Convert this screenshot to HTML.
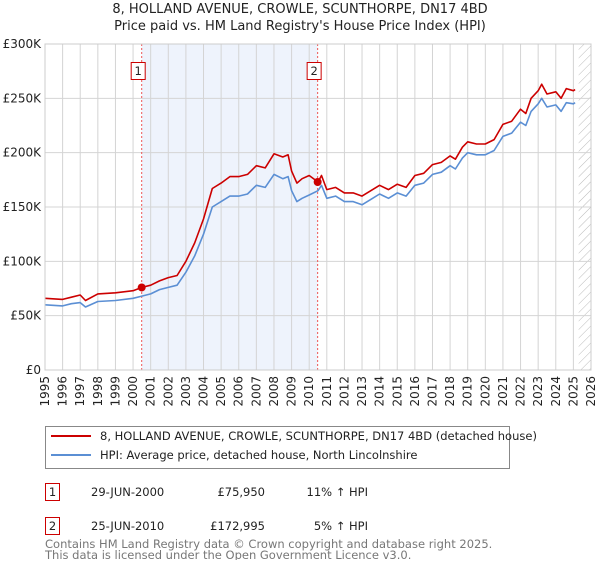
<!DOCTYPE html>
<html><head><meta charset="utf-8">
<style>
body{margin:0;background:#fff;font-family:"Liberation Sans","DejaVu Sans",sans-serif;}
svg text{font-family:"DejaVu Sans","Liberation Sans",sans-serif;}
</style></head>
<body>
<svg id="chart" width="600" height="560" viewBox="0 0 600 560" xmlns="http://www.w3.org/2000/svg">
<defs>
<pattern id="hatch" width="6" height="6" patternUnits="userSpaceOnUse" patternTransform="rotate(45)">
<line x1="0" y1="0" x2="0" y2="6" stroke="#bbb" stroke-width="1"/>
</pattern>
</defs>
<text x="300" y="13" text-anchor="middle" font-size="13" fill="#222">8, HOLLAND AVENUE, CROWLE, SCUNTHORPE, DN17 4BD</text>
<text x="300" y="30" text-anchor="middle" font-size="13" fill="#222">Price paid vs. HM Land Registry's House Price Index (HPI)</text>
<g id="plot"></g>
<g>
<rect x="45.5" y="426.5" width="464" height="42" fill="#fff" stroke="#888"/>
<line x1="51" y1="436" x2="91" y2="436" stroke="#cc0000" stroke-width="2"/>
<text x="100" y="440" font-size="11.5" fill="#222">8, HOLLAND AVENUE, CROWLE, SCUNTHORPE, DN17 4BD (detached house)</text>
<line x1="51" y1="455" x2="91" y2="455" stroke="#5b8fd4" stroke-width="2"/>
<text x="100" y="459" font-size="11.5" fill="#222">HPI: Average price, detached house, North Lincolnshire</text>
</g>
<g>
<rect x="45.5" y="483.5" width="14" height="17" fill="#fff" stroke="#cc0000"/>
<text x="52.5" y="496" text-anchor="middle" font-size="11.5" fill="#222">1</text>
<text x="91" y="496" font-size="11.5" fill="#222">29-JUN-2000</text>
<text x="265" y="496" text-anchor="end" font-size="11.5" fill="#222">£75,950</text>
<text x="368" y="496" text-anchor="end" font-size="11.5" fill="#222">11% ↑ HPI</text>
<rect x="45.5" y="517.5" width="14" height="17" fill="#fff" stroke="#cc0000"/>
<text x="52.5" y="530" text-anchor="middle" font-size="11.5" fill="#222">2</text>
<text x="91" y="530" font-size="11.5" fill="#222">25-JUN-2010</text>
<text x="265" y="530" text-anchor="end" font-size="11.5" fill="#222">£172,995</text>
<text x="368" y="530" text-anchor="end" font-size="11.5" fill="#222">5% ↑ HPI</text>
</g>
<text x="45" y="548" font-size="11.5" fill="#777">Contains HM Land Registry data © Crown copyright and database right 2025.</text>
<text x="45" y="559" font-size="11.5" fill="#777">This data is licensed under the Open Government Licence v3.0.</text>
</svg>
<script>
const yearTicks=[1995,1996,1997,1998,1999,2000,2001,2002,2003,2004,2005,2006,2007,2008,2009,2010,2011,2012,2013,2014,2015,2016,2017,2018,2019,2020,2021,2022,2023,2024,2025,2026];
const valueTicks=[0,50000,100000,150000,200000,250000,300000];
const valueLabels=["£0","£50K","£100K","£150K","£200K","£250K","£300K"];
const hpiYears=[1995,1996,1996.5,1997,1997.3,1998,1999,2000,2000.5,2001,2001.5,2002,2002.5,2003,2003.5,2004,2004.5,2005,2005.5,2006,2006.5,2007,2007.5,2008,2008.5,2008.8,2009,2009.3,2009.6,2010,2010.5,2010.7,2011,2011.5,2012,2012.5,2013,2013.5,2014,2014.5,2015,2015.5,2016,2016.5,2017,2017.5,2018,2018.3,2018.7,2019,2019.5,2020,2020.5,2021,2021.5,2022,2022.3,2022.6,2023,2023.2,2023.5,2024,2024.3,2024.6,2025,2025.1];
const hpiValues=[60000,59000,61000,62000,58000,63000,64000,66000,68000,70000,74000,76000,78000,90000,105000,125000,150000,155000,160000,160000,162000,170000,168000,180000,176000,178000,165000,155000,158000,161000,165000,170000,158000,160000,155000,155000,152000,157000,162000,158000,163000,160000,170000,172000,180000,182000,188000,185000,195000,200000,198000,198000,202000,215000,218000,228000,225000,238000,245000,250000,242000,244000,238000,246000,245000,246000];
const propYears=[1995,1996,1996.5,1997,1997.3,1998,1999,2000,2000.5,2001,2001.5,2002,2002.5,2003,2003.5,2004,2004.5,2005,2005.5,2006,2006.5,2007,2007.5,2008,2008.5,2008.8,2009,2009.3,2009.6,2010,2010.5,2010.7,2011,2011.5,2012,2012.5,2013,2013.5,2014,2014.5,2015,2015.5,2016,2016.5,2017,2017.5,2018,2018.3,2018.7,2019,2019.5,2020,2020.5,2021,2021.5,2022,2022.3,2022.6,2023,2023.2,2023.5,2024,2024.3,2024.6,2025,2025.1];
const propValues=[66000,65000,67000,69000,64000,70000,71000,73000,76000,78000,82000,85000,87000,100000,117000,139000,167000,172000,178000,178000,180000,188000,186000,199000,196000,198000,183000,172000,176000,179000,173000,179000,166000,168000,163000,163000,160000,165000,170000,166000,171000,168000,179000,181000,189000,191000,197000,194000,205000,210000,208000,208000,212000,226000,229000,240000,236000,250000,257000,263000,254000,256000,250000,259000,257000,258000];
const saleYears=[2000.49,2010.48];
const saleValues=[75950,172995];
const saleLabels=["1","2"];

const L=45,R=591,T=44,B=370;
const X0=1995,X1=2026,YMAX=300000;
const xs=v=>L+(v-X0)/(X1-X0)*(R-L);
const ys=v=>B-v/YMAX*(B-T);
const NS="http://www.w3.org/2000/svg";
const plot=document.getElementById('plot');
function mk(tag,attrs){const e=document.createElementNS(NS,tag);for(const k in attrs)e.setAttribute(k,attrs[k]);plot.appendChild(e);return e;}

const shade=mk('rect',{x:xs(saleYears[0]),y:T,width:xs(saleYears[1])-xs(saleYears[0]),height:B-T,fill:'#eef3fc'});


const hat=mk('rect',{x:xs(2025.3),y:T,width:R-xs(2025.3),height:B-T,fill:'url(#hatch)'});



yearTicks.forEach(y=>{
  const g=mk('line',{x1:xs(y),x2:xs(y),y1:T,y2:B,stroke:'#d4d4d4','stroke-width':1});
  
  
  const t=mk('text',{x:0,y:0,'font-size':12,fill:'#222','text-anchor':'end',transform:`translate(${xs(y)+4},${B+6}) rotate(-90)`});
  t.textContent=y;
  
  
});
valueTicks.forEach((v,i)=>{
  const g=mk('line',{x1:L,x2:R,y1:ys(v),y2:ys(v),stroke:'#d4d4d4','stroke-width':1});
  
  
  const t=mk('text',{x:L-4,y:ys(v)+4,'font-size':12,fill:'#222','text-anchor':'end'});
  t.textContent=valueLabels[i];
  
  
});

saleYears.forEach((y,i)=>{
  const l=mk('line',{x1:xs(y),x2:xs(y),y1:T,y2:B,stroke:'#e55','stroke-width':1,'stroke-dasharray':'2,2'});
  
  
});

function path(xsA,vs,color,name){
  const d=xsA.map((x,i)=>(i?'L':'M')+xs(x).toFixed(1)+','+ys(vs[i]).toFixed(1)).join('');
  const p=mk('path',{d:d,fill:'none',stroke:color,'stroke-width':1.6,'stroke-linejoin':'round'});
  
  
}
path(hpiYears,hpiValues,'#5b8fd4','hpi-line');
path(propYears,propValues,'#cc0000','property-price-line');

saleYears.forEach((y,i)=>{
  const c=mk('circle',{cx:xs(y),cy:ys(saleValues[i]),r:4,fill:'#cc0000'});
  
  
  const bx=xs(y)-10;
  const r=mk('rect',{x:bx-0.5,y:62.5,width:14,height:17,fill:'#fff',stroke:'#cc0000'});
  
  
  const t=mk('text',{x:bx+6.5,y:75,'font-size':11.5,fill:'#222','text-anchor':'middle'});
  t.textContent=saleLabels[i];
  
  
});
const ax=mk('rect',{x:L,y:T,width:R-L,height:B-T,fill:'none',stroke:'#ccc'});


</script>
</body></html>
